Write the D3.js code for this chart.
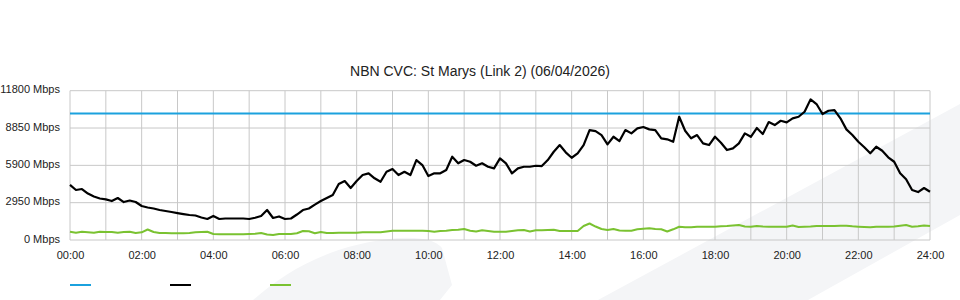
<!DOCTYPE html>
<html>
<head>
<meta charset="utf-8">
<script src="https://cdn.jsdelivr.net/npm/d3@7"></script>
<style>
  body { margin: 0; background: #fff; }
  svg { display: block; font-family: "Liberation Sans", Arial, sans-serif; }
</style>
</head>
<body>
<svg id="chart" width="960" height="300"></svg>
<script>
// 10 minute samples, 00:00 -> 24:00
const stepMinutes = 10;
const chartTitle = "NBN CVC: St Marys (Link 2) (06/04/2026)";

const capacity = 10000;

const usage = [
  4350, 3950, 4030, 3670, 3440, 3280, 3215, 3080, 3320, 3000,
  3120, 3000, 2690, 2570, 2490, 2370, 2290, 2210, 2130, 2050,
  1975, 1935, 1780, 1660, 1900, 1660, 1700, 1700, 1700, 1700,
  1660, 1760, 1900, 2370, 1740, 1860, 1660, 1700, 2015, 2370,
  2490, 2800, 3080, 3320, 3555, 4425, 4660, 4110, 4660, 5135,
  5270, 4875, 4605, 5395, 5610, 5135, 5395, 5135, 6320, 5925,
  5055, 5270, 5270, 5530, 6580, 6060, 6320, 6185, 5870, 6060,
  5790, 5665, 6455, 6060, 5270, 5665, 5790, 5790, 5870, 5845,
  6320, 6975, 7505, 6930, 6500, 6850, 7505, 8690, 8610, 8295,
  7560, 8160, 7820, 8690, 8430, 8825, 8930, 8745, 8690, 8035,
  7955, 7765, 9740, 8635, 8035, 8295, 7640, 7505, 8160, 7685,
  7110, 7245, 7640, 8430, 8160, 8850, 8375, 9320, 9085, 9425,
  9300, 9615, 9740, 10135, 11115, 10745, 9955, 10215, 10270, 9615,
  8745, 8295, 7765, 7325, 6850, 7370, 7055, 6535, 6185, 5270,
  4795, 3950, 3790, 4110, 3815
];

const baseline = [
  655, 575, 655, 610, 575, 655, 630, 630, 575, 630,
  655, 555, 610, 830, 630, 555, 555, 530, 530, 530,
  555, 610, 630, 655, 475, 450, 450, 450, 450, 450,
  475, 500, 555, 435, 395, 475, 475, 475, 530, 710,
  690, 530, 630, 555, 555, 575, 575, 575, 575, 610,
  610, 610, 610, 670, 735, 735, 735, 735, 735, 735,
  710, 655, 710, 735, 790, 815, 870, 735, 670, 765,
  710, 655, 655, 655, 710, 765, 790, 670, 765, 765,
  790, 815, 710, 710, 710, 710, 1105, 1305, 1065, 870,
  790, 870, 750, 735, 735, 845, 885, 925, 870, 845,
  670, 845, 1050, 1005, 1005, 1050, 1050, 1050, 1050, 1080,
  1105, 1145, 1185, 1065, 1050, 1105, 1065, 1050, 1050, 1050,
  1050, 1145, 1025, 1050, 1065, 1105, 1105, 1105, 1105, 1130,
  1130, 1080, 1050, 1025, 1005, 1050, 1050, 1050, 1065, 1130,
  1185, 1050, 1080, 1145, 1105
];

const yTicks = [0, 2950, 5900, 8850, 11800];
const xTickHours = d3.range(0, 25, 2);
const xTickLabels = xTickHours.map(h => String(h).padStart(2, "0") + ":00");

const colors = { capacity: "#1ba1de", usage: "#000000", baseline: "#7ac231" };

const svg = d3.select("#chart");
const margin = { left: 70, right: 30, top: 90.7, bottom: 60 };
const width = 960, height = 300;

const x = d3.scaleLinear().domain([0, 24]).range([margin.left, width - margin.right]);
const y = d3.scaleLinear().domain([0, 11800]).range([height - margin.bottom, margin.top]);

// faint watermark shapes behind the chart
const bg = svg.append("g").attr("fill", "#f4f5f7");
bg.append("path").attr("d", "M253,300 C285,272 330,244 398,238 Q432,236 442,248 L452,285 L440,300 Z");
bg.append("path").attr("d", "M598,300 L960,104 L960,215 L808,300 Z");

// grid
const grid = svg.append("g").attr("stroke", "#c8c8c8").attr("stroke-width", 1);
grid.selectAll("line.v")
  .data(d3.range(0, 25))
  .enter().append("line")
  .attr("x1", d => x(d)).attr("x2", d => x(d))
  .attr("y1", y(11800)).attr("y2", y(0));
grid.selectAll("line.h")
  .data(yTicks)
  .enter().append("line")
  .attr("x1", x(0)).attr("x2", x(24))
  .attr("y1", d => y(d)).attr("y2", d => y(d));

// axes labels
const yAxis = d3.axisLeft(y).tickValues(yTicks).tickSize(0).tickPadding(10)
  .tickFormat(d => d + " Mbps");
svg.append("g")
  .attr("transform", `translate(${margin.left},0)`)
  .call(yAxis)
  .call(g => g.select(".domain").remove())
  .call(g => g.selectAll("text").attr("font-size", 11).attr("fill", "#222")
    .attr("font-family", "Liberation Sans, Arial, sans-serif").attr("dy", "0.2em"));

const xAxis = d3.axisBottom(x).tickValues(xTickHours).tickSize(0).tickPadding(11)
  .tickFormat((d, i) => xTickLabels[i]);
svg.append("g")
  .attr("transform", `translate(0,${y(0)})`)
  .call(xAxis)
  .call(g => g.select(".domain").remove())
  .call(g => g.selectAll("text").attr("font-size", 11).attr("fill", "#222")
    .attr("font-family", "Liberation Sans, Arial, sans-serif"));

// title
svg.append("text")
  .attr("x", 480).attr("y", 75.5)
  .attr("text-anchor", "middle")
  .attr("font-size", 14)
  .attr("fill", "#222")
  .text(chartTitle);

// series
const hourOf = i => i * stepMinutes / 60;
const line = d3.line().x((d, i) => x(hourOf(i))).y(d => y(d));

svg.append("line")
  .attr("x1", x(0)).attr("x2", x(24))
  .attr("y1", y(capacity)).attr("y2", y(capacity))
  .attr("stroke", colors.capacity).attr("stroke-width", 2);

svg.append("path").datum(baseline)
  .attr("d", line).attr("fill", "none")
  .attr("stroke", colors.baseline).attr("stroke-width", 2)
  .attr("stroke-linejoin", "round");

svg.append("path").datum(usage)
  .attr("d", line).attr("fill", "none")
  .attr("stroke", colors.usage).attr("stroke-width", 2.2)
  .attr("stroke-linejoin", "round");

// legend (swatches only)
const legend = svg.append("g");
[colors.capacity, colors.usage, colors.baseline].forEach((c, i) => {
  legend.append("line")
    .attr("x1", 70 + i * 100).attr("x2", 91 + i * 100)
    .attr("y1", 285).attr("y2", 285)
    .attr("stroke", c).attr("stroke-width", 2);
});
</script>
</body>
</html>
